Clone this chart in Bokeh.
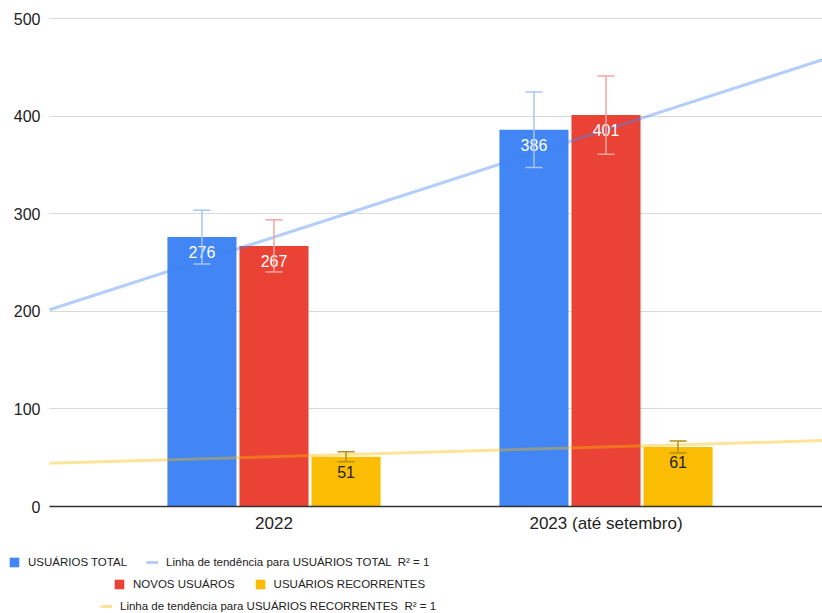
import numpy as np
from bokeh.plotting import figure
from bokeh.models import (ColumnDataSource, Range1d, FixedTicker, Whisker, TeeHead,
                          Legend, LegendItem)
from bokeh.core.properties import value
from bokeh.embed import file_html
from bokeh.resources import INLINE

# ---- data ----
categories = ["2022", "2023 (até setembro)"]
series_names = ["USUÁRIOS TOTAL", "NOVOS USUÁROS", "USUÁRIOS RECORRENTES"]
usuarios_total = [276, 386]
novos_usuarios = [267, 401]
usuarios_recorrentes = [51, 61]
error_fraction = 0.10
y_ticks = [0, 100, 200, 300, 400, 500]

# ---- style / layout ----
FONT = "Liberation Sans"
colors = ["#4285f4", "#ea4335", "#fbbc04"]
err_colors = ["#a8c4f6", "#f3a49d", "#b0901a"]
label_colors = ["#ffffff", "#ffffff", "#222222"]
offsets = [-0.217, 0.0, 0.217]
bar_w = 0.208

W, H = 822, 613
PX_PER_CAT = 332.0      # pixels between category centres
CAT1_PX = 273.5         # pixel x of first category centre
PLOT_LEFT_PX = 49       # where the grid / axis starts
Y_TOP_PX, Y_ZERO_PX = 18, 506
Y_MAX = 500

cat_x = [1, 2]
x_start = 1 - CAT1_PX / PX_PER_CAT
x_end = x_start + W / PX_PER_CAT
x_plot_left = 1 - (CAT1_PX - PLOT_LEFT_PX) / PX_PER_CAT
px_per_unit = (Y_ZERO_PX - Y_TOP_PX) / Y_MAX
y_top = Y_MAX + Y_TOP_PX / px_per_unit
y_bottom = -(H - Y_ZERO_PX) / px_per_unit

p = figure(width=W, height=H, output_backend="svg", toolbar_location=None,
           x_range=Range1d(x_start, x_end), y_range=Range1d(y_bottom, y_top),
           min_border=0)
p.outline_line_color = None
p.background_fill_color = "white"
p.grid.visible = False

bar_renderers, sources = [], []
for k, vals in enumerate([usuarios_total, novos_usuarios, usuarios_recorrentes]):
    xs = [c + offsets[k] for c in cat_x]
    src = ColumnDataSource(dict(
        x=xs, top=vals,
        upper=[v * (1 + error_fraction) for v in vals],
        lower=[v * (1 - error_fraction) for v in vals],
        lab=[str(v) for v in vals]))
    r = p.vbar(x="x", top="top", width=bar_w, source=src, fill_color=colors[k],
               line_color=None)
    bar_renderers.append(r)
    sources.append(src)

# trend lines (linear fit)
xl = np.array([x_plot_left, x_end])
trend_renderers = []
for vals, col in [(usuarios_total, colors[0]), (usuarios_recorrentes, colors[2])]:
    m, b = np.polyfit(cat_x, vals, 1)
    trend_renderers.append(p.line(xl, m * xl + b, line_color=col, line_alpha=0.4,
                                  line_width=3))

for k, src in enumerate(sources):
    p.text(x="x", y="top", text="lab", source=src, text_align="center",
           text_baseline="middle", y_offset=15, text_color=label_colors[k],
           text_font=value(FONT), text_font_size="16px")
    p.add_layout(Whisker(source=src, base="x", upper="upper", lower="lower",
                         dimension="height", level="overlay",
                         line_color=err_colors[k], line_width=1.5,
                         upper_head=TeeHead(size=17, line_color=err_colors[k], line_width=1.5),
                         lower_head=TeeHead(size=17, line_color=err_colors[k], line_width=1.5)))

# ---- axes (fixed inside the frame) ----
xa, ya = p.xaxis[0], p.yaxis[0]
xa.fixed_location = 0
xa.bounds = (x_plot_left, x_end)
xa.ticker = FixedTicker(ticks=cat_x)
xa.major_label_overrides = {c: lab for c, lab in zip(cat_x, categories)}
xa.axis_line_color = "#333333"
xa.axis_line_width = 1.5
xa.major_tick_line_color = None
xa.minor_tick_line_color = None
xa.major_tick_in = 0
xa.major_tick_out = 0
xa.major_label_standoff = 7
xa.major_label_text_font = FONT
xa.major_label_text_font_size = "17px"
xa.major_label_text_color = "#222222"

ya.fixed_location = x_plot_left
ya.bounds = (0, Y_MAX)
ya.ticker = FixedTicker(ticks=y_ticks)
ya.axis_line_color = None
ya.minor_tick_line_color = None
ya.major_tick_line_color = "#d9d9d9"       # ticks drawn inward act as grid lines
ya.major_tick_line_width = 1
ya.major_tick_in = W - PLOT_LEFT_PX
ya.major_tick_out = 0
ya.major_label_standoff = 9
ya.major_label_text_font = FONT
ya.major_label_text_font_size = "16px"
ya.major_label_text_color = "#222222"
ya.level = "underlay"

# ---- legend rows ----
trend_total = "Linha de tendência para " + series_names[0] + "  R² = 1"
trend_rec = "Linha de tendência para " + series_names[2] + "  R² = 1"
rows = [
    ([LegendItem(label=value(series_names[0]), renderers=[bar_renderers[0]]),
      LegendItem(label=value(trend_total), renderers=[trend_renderers[0]])], (8, 45)),
    ([LegendItem(label=value(series_names[1]), renderers=[bar_renderers[1]]),
      LegendItem(label=value(series_names[2]), renderers=[bar_renderers[2]])], (113, 23)),
    ([LegendItem(label=value(trend_rec), renderers=[trend_renderers[1]])], (100, 1)),
]
for items, loc in rows:
    lg = Legend(items=items, location=loc, orientation="horizontal",
                padding=0, margin=0, spacing=19, label_standoff=8,
                glyph_width=12, glyph_height=12, label_height=12,
                label_text_font=FONT, label_text_font_size="11.5px",
                label_text_color="#222222", label_text_baseline="middle",
                border_line_color=None, background_fill_alpha=0)
    p.add_layout(lg, "center")

open("out.html", "w").write(file_html(p, INLINE))
